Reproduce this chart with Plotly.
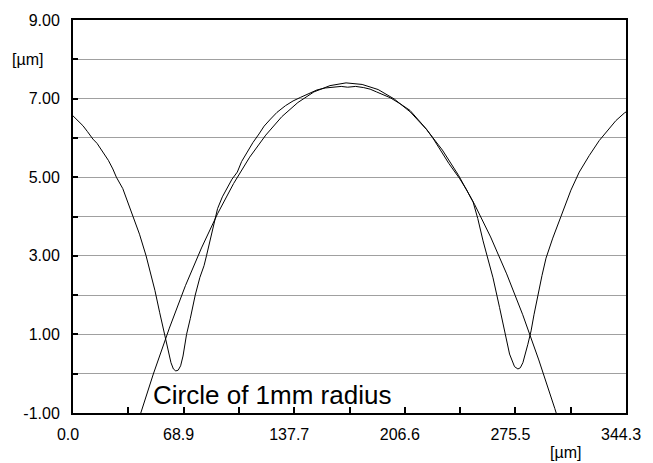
import plotly.graph_objects as go

meas_x = [0, 3, 6.2, 9, 12.4, 15, 18.6, 22, 24.8, 27, 31, 34, 37.2, 41.4, 45.5, 48, 51, 54,
          56.9, 59, 61, 62.5, 64, 65.5, 67, 68.5, 70.7, 73, 76.1, 79, 81.6, 83.1, 85.8, 88, 90, 93,
          96.1, 99, 102.3, 105, 108.5, 112, 115.8, 119, 123, 127, 132.3, 137, 141.6, 147, 151.9,
          157, 162.3, 167, 171, 176, 181, 185, 189, 193, 197.6, 204, 209.8, 215, 220.1, 224,
          228.4, 234, 240.8, 245, 249.1, 252, 255.3, 258.4, 261.5, 265.6, 268.7, 271.8, 274.9,
          277, 278.5, 280.1, 283.2, 285.2, 287, 289.4, 292, 294.5, 298.7, 303.8, 307, 310,
          315.2, 321.4, 327.6, 333.8, 338, 343.2, 344.3]
meas_y = [6.56, 6.45, 6.31, 6.16, 5.97, 5.86, 5.64, 5.43, 5.21, 5.00, 4.71, 4.38, 4.00, 3.55,
          3.00, 2.62, 2.12, 1.55, 1.00, 0.60, 0.28, 0.12, 0.07, 0.09, 0.20, 0.45, 1.00, 1.40, 2.00,
          2.45, 2.75, 3.00, 3.50, 3.90, 4.20, 4.50, 4.75, 4.95, 5.13, 5.40, 5.64, 5.88, 6.10,
          6.30, 6.48, 6.65, 6.82, 6.94, 7.03, 7.14, 7.22, 7.27, 7.29, 7.31, 7.29, 7.31, 7.28,
          7.24, 7.17, 7.10, 7.02, 6.86, 6.70, 6.46, 6.22, 6.00, 5.72, 5.35, 4.96, 4.68, 4.37,
          3.95, 3.38, 2.94, 2.44, 1.68, 1.09, 0.50, 0.18, 0.12, 0.15, 0.28, 0.75, 1.09, 1.50,
          2.02, 2.50, 2.94, 3.45, 4.00, 4.35, 4.67, 5.13, 5.55, 5.93, 6.22, 6.44, 6.63, 6.66]

# Circle of 1 mm radius
circ_x = [40, 42, 50, 60, 70, 80, 90, 100, 110, 120, 130, 140, 150, 160, 170, 180, 190, 200,
          210, 220, 230, 240, 250, 260, 270, 280, 290, 300, 302]
circ_y = [-1.28, -1.02, -0.01, 1.16, 2.24, 3.20, 4.07, 4.84, 5.51, 6.07, 6.54, 6.90, 7.17, 7.33,
          7.40, 7.36, 7.23, 6.99, 6.66, 6.22, 5.69, 5.05, 4.31, 3.48, 2.54, 1.50, 0.35, -0.89,
          -1.15]

x_tickvals = [0, 68.86, 137.72, 206.58, 275.44, 344.3]
x_ticktext = ["0.0", "68.9", "137.7", "206.6", "275.5", "344.3"]
y_tickvals = [-1, 1, 3, 5, 7, 9]
y_ticktext = ["-1.00", "1.00", "3.00", "5.00", "7.00", "9.00"]

fig = go.Figure()
fig.add_trace(go.Scatter(x=meas_x, y=meas_y, mode="lines",
                         line=dict(color="black", width=1), showlegend=False))
fig.add_trace(go.Scatter(x=circ_x, y=circ_y, mode="lines",
                         line=dict(color="black", width=1), showlegend=False))

L, R, T, B = 73, 25, 17, 50
W, H = 653, 463
fig.update_layout(
    width=W, height=H,
    margin=dict(l=L, r=R, t=T, b=B),
    paper_bgcolor="white", plot_bgcolor="white",
    font=dict(family="Liberation Sans, Arial, sans-serif", size=16, color="black"),
    xaxis=dict(range=[0, 344.3], tickvals=x_tickvals, ticktext=x_ticktext,
               showline=True, linecolor="black", linewidth=2, mirror=True,
               ticks="inside", ticklen=6, tickwidth=2, tickcolor="black",
               showgrid=False, zeroline=False, ticklabelstandoff=6, ticklabelshift=-5,
               minor=dict(tick0=0, dtick=34.43, ticks="inside", ticklen=6,
                          tickwidth=2, tickcolor="black", showgrid=False)),
    yaxis=dict(range=[-1, 9], tickvals=y_tickvals, ticktext=y_ticktext,
               showline=True, linecolor="black", linewidth=2, mirror=True,
               ticks="inside", ticklen=5, tickwidth=2, tickcolor="black",
               showgrid=True, gridcolor="#a0a0a0", gridwidth=1,
               zeroline=False, ticklabelstandoff=8,
               minor=dict(tick0=0, dtick=1, ticks="inside", ticklen=5,
                          tickwidth=2, tickcolor="black", showgrid=True,
                          gridcolor="#a0a0a0", gridwidth=1)),
)

pw = W - L - R
ph = H - T - B
def px(xp):
    return (xp - L) / pw
def py(yp):
    return (H - B - yp) / ph

fig.add_annotation(text="Circle of 1mm radius", x=px(151), y=py(395), xref="paper", yref="paper",
                   showarrow=False, font=dict(size=26), xanchor="left", yanchor="middle")
fig.add_annotation(text="[µm]", x=px(27), y=py(57), xref="paper", yref="paper",
                   showarrow=False, font=dict(size=16), xanchor="center", yanchor="middle")
fig.add_annotation(text="[µm]", x=px(567), y=py(453), xref="paper", yref="paper",
                   showarrow=False, font=dict(size=16), xanchor="center", yanchor="middle")

fig.write_html("out.html", config={"displayModeBar": False},
               post_script="document.body.style.margin='0';document.body.style.overflow='hidden';")
